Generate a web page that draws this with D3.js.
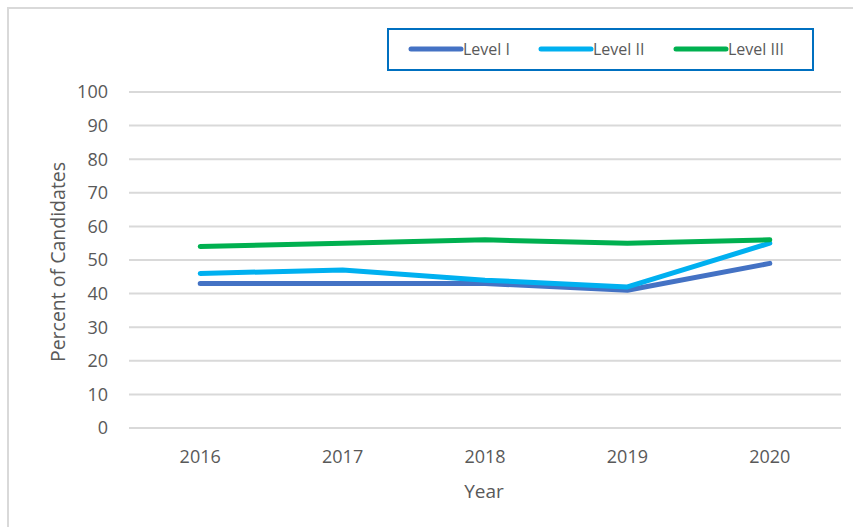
<!DOCTYPE html>
<html>
<head>
<meta charset="utf-8">
<script src="https://cdn.jsdelivr.net/npm/d3@7"></script>
<style>
  body { margin: 0; background: #fff; }
  text { font-family: "Open Sans", "Liberation Sans", sans-serif; fill: #595959; }
</style>
</head>
<body>
<svg id="chart" width="853" height="527"></svg>
<script>
// chart data
const years = ["2016", "2017", "2018", "2019", "2020"];
const levelI = [43, 43, 43, 41, 49];
const levelII = [46, 47, 44, 42, 55];
const levelIII = [54, 55, 56, 55, 56];
const seriesNames = ["Level I", "Level II", "Level III"];
const yTicks = [0, 10, 20, 30, 40, 50, 60, 70, 80, 90, 100];

const colors = ["#4472C4", "#00B0F0", "#00B050"];
const series = [levelI, levelII, levelIII];

const svg = d3.select("#chart");

// outer chart frame (runs off the right and bottom edges)
svg.append("rect")
    .attr("x", 8).attr("y", 8)
    .attr("width", 900).attr("height", 600)
    .style("fill", "none")
    .style("stroke", "#d9d9d9")
    .style("stroke-width", 2);

const plotLeft = 129, plotRight = 841, plotTop = 92, plotBottom = 428;

const x = d3.scaleBand().domain(years).range([plotLeft, plotRight]);
const y = d3.scaleLinear().domain([0, 100]).range([plotBottom, plotTop]);

// gridlines
svg.selectAll(".grid")
    .data(yTicks)
    .enter()
    .append("line")
    .attr("class", "grid")
    .attr("x1", plotLeft).attr("x2", plotRight)
    .attr("y1", d => y(d)).attr("y2", d => y(d))
    .style("stroke", "#d9d9d9")
    .style("stroke-width", 2);

// y tick labels
svg.selectAll(".ylab")
    .data(yTicks)
    .enter()
    .append("text")
    .attr("class", "ylab")
    .attr("x", 108)
    .attr("y", d => y(d))
    .attr("dy", "0.35em")
    .style("text-anchor", "end")
    .style("font-size", "18px")
    .text(d => d);

// x tick labels
svg.selectAll(".xlab")
    .data(years)
    .enter()
    .append("text")
    .attr("class", "xlab")
    .attr("x", d => x(d) + x.bandwidth() / 2)
    .attr("y", 457)
    .attr("dy", "0.35em")
    .style("text-anchor", "middle")
    .style("font-size", "18px")
    .text(d => d);

// axis titles
svg.append("text")
    .attr("x", 484).attr("y", 491)
    .attr("dy", "0.35em")
    .style("text-anchor", "middle")
    .style("font-size", "19px")
    .text("Year");

svg.append("text")
    .attr("transform", "translate(58,262) rotate(-90)")
    .attr("dy", "0.35em")
    .style("text-anchor", "middle")
    .style("font-size", "19.5px")
    .text("Percent of Candidates");

// lines
const line = d3.line()
    .x((d, i) => x(years[i]) + x.bandwidth() / 2)
    .y(d => y(d));

svg.selectAll(".series")
    .data(series)
    .enter()
    .append("path")
    .attr("class", "series")
    .attr("d", line)
    .style("fill", "none")
    .style("stroke", (d, i) => colors[i])
    .style("stroke-width", 5)
    .style("stroke-linecap", "round")
    .style("stroke-linejoin", "round");

// legend
svg.append("rect")
    .attr("x", 388).attr("y", 29)
    .attr("width", 425).attr("height", 41)
    .style("fill", "#fff")
    .style("stroke", "#0070C0")
    .style("stroke-width", 2);

const legendX = [411, 541, 676];
const item = svg.selectAll(".legend")
    .data(seriesNames)
    .enter()
    .append("g")
    .attr("class", "legend")
    .attr("transform", (d, i) => `translate(${legendX[i]},49)`);

item.append("line")
    .attr("x1", 0).attr("x2", 50)
    .style("stroke", (d, i) => colors[i])
    .style("stroke-width", 5)
    .style("stroke-linecap", "round");

item.append("text")
    .attr("x", 52)
    .attr("dy", "0.35em")
    .style("font-size", "16px")
    .text(d => d);
</script>
</body>
</html>
